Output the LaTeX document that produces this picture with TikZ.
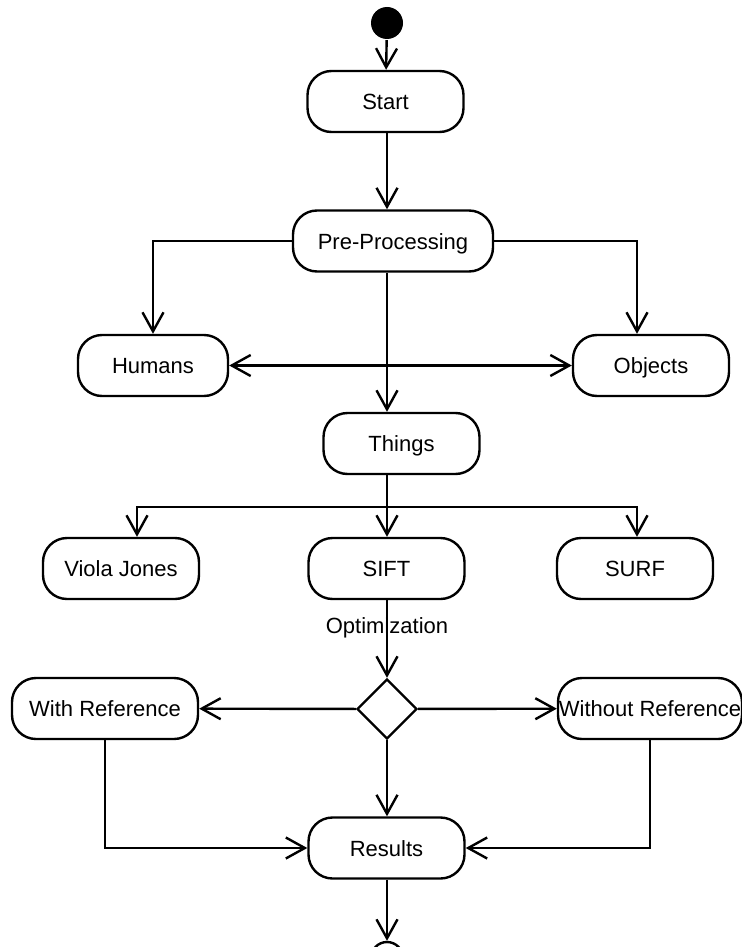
\documentclass[tikz,border=0pt]{standalone}
\usepackage{fontspec}
\setmainfont{Liberation Sans}
\usetikzlibrary{arrows.meta,shapes.geometric}

\begin{document}
\begin{tikzpicture}[
      x=0.5pt, y=-0.5pt,
      line width=1.2pt,
      font=\fontsize{11}{13}\selectfont,
      box/.style={draw, rounded corners=12pt, minimum width=78pt, minimum height=30.5pt, inner sep=0pt, text height=8pt, text depth=0pt},
      >={Straight Barb[length=9.5pt,width=10.5pt]}
    ]
    \useasboundingbox (0,0) rectangle (742,947);
    \clip (0,0) rectangle (742,947);

    \node[circle, fill, minimum size=16pt, inner sep=0pt] (init) at (387,23) {};
    \node[box] (start) at (385.5,101.5) {Start};
    \node[box, minimum width=100pt] (pre) at (393,241) {Pre-Processing};
    \node[box, minimum width=75pt] (humans) at (153,365.5) {Humans};
    \node[box] (objects) at (651,365.5) {Objects};
    \node[box] (things) at (401.5,443.5) {Things};
    \node[box] (viola) at (121,568.5) {Viola Jones};
    \node[box] (sift) at (386.5,568.5) {SIFT};
    \node[box] (surf) at (635,568.5) {SURF};
    \node[diamond, draw, minimum size=30pt, inner sep=0pt] (choice) at (387,709) {};
    \node[box, minimum width=93pt] (withref) at (105,708.5) {With Reference};
    \node[box, minimum width=92pt] (noref) at (650,708.5) {Without Reference};
    \node[box] (results) at (386.5,848) {Results};
    \node[circle, draw, minimum size=16pt, inner sep=0pt] (final) at (387,958) {};
    \coordinate (fork) at (387,507);

    \draw[->] (init) -- (start);
    \draw[->] (start.south -| init) -- (pre.north -| init);
    \draw[->] (pre.west) -| (humans);
    \draw[->] (pre.east) -| ([xshift=-7pt]objects.north);
    \draw[<->] (humans) -- (objects);
    \draw[->] (pre.south -| init) -- (things.north -| init);
    \draw (things.south -| init) -- (fork);
    \draw[->] (fork) -- (sift.north -| init);
    \draw[->] (fork) -| ([xshift=8pt]viola.north);
    \draw[->] (fork) -| ([xshift=1pt]surf.north);
    \draw[->] (sift.south -| init) -- node[pos=0.36] {Optimization} (choice);
    \draw[->] (choice) -- (withref);
    \draw[->] (choice) -- (noref);
    \draw[->] (choice) -- (results.north -| choice);
    \draw[->] (withref) |- (results);
    \draw[->] (noref) |- (results);
    \draw[->] (results.south -| init) -- (final);
  \end{tikzpicture}
\end{document}
